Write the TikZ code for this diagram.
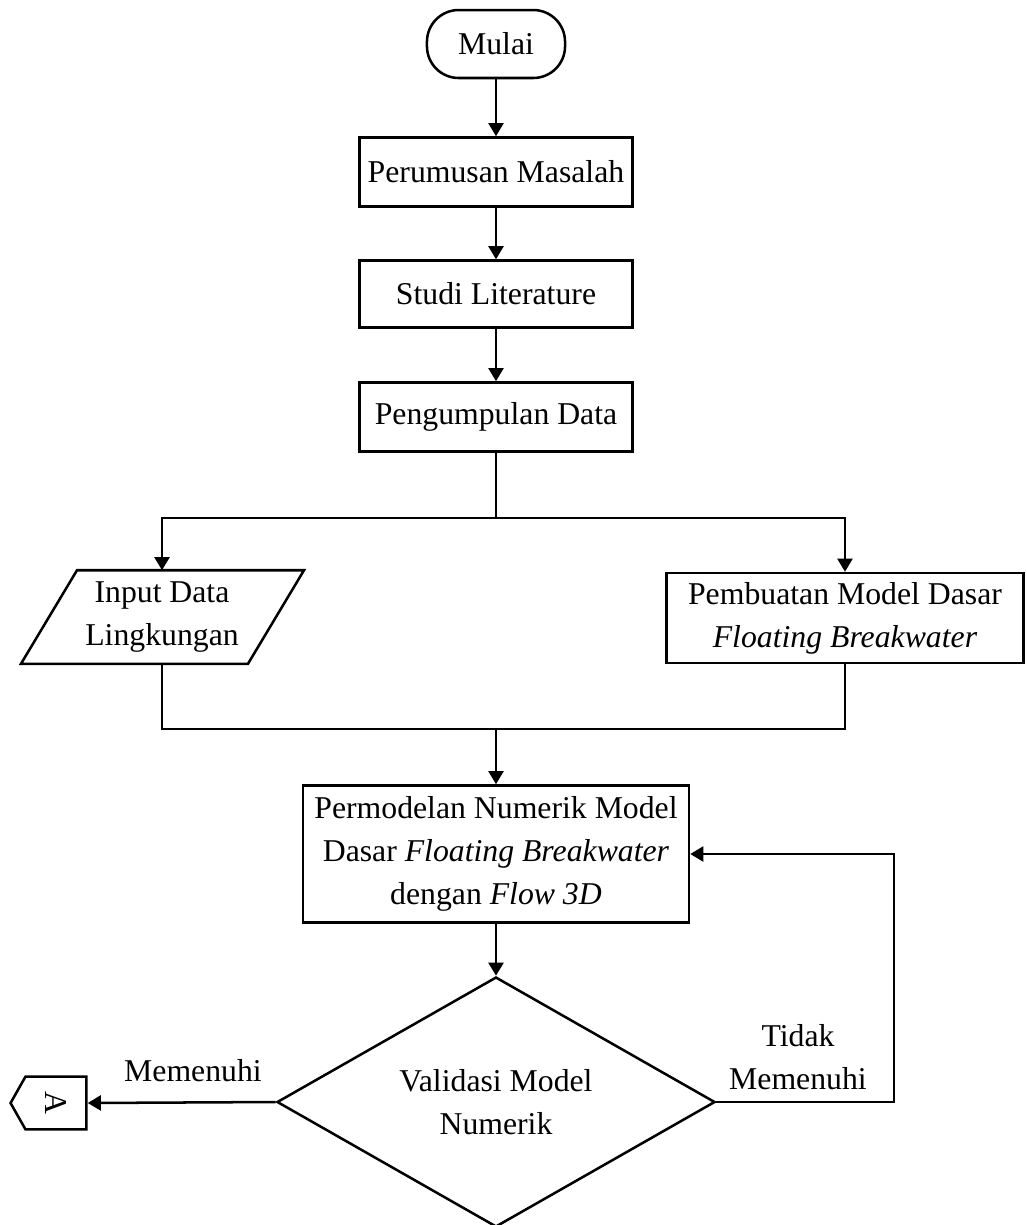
\documentclass[tikz,border=0pt]{standalone}
\usepackage{fontspec}
\setmainfont{Liberation Serif}
\usetikzlibrary{shapes.geometric,shapes.symbols,arrows.meta}

\begin{document}
\begin{tikzpicture}[x=0.378pt,y=-0.378pt,line width=0.95pt,
  font=\fontsize{12pt}{16.3pt}\selectfont,
  proses/.style={draw,rectangle,align=center,inner sep=0pt},
  arah/.style={-{Triangle[length=5pt,width=5.7pt]}},
  every node/.style={align=center}]
  \useasboundingbox (0,0) rectangle (1026,1225);
  \node[draw,rounded corners=12pt,minimum width=52.2pt,minimum height=25.7pt] (mulai) at (496,44) {Mulai};
  \node[proses,minimum width=103.2pt,minimum height=26.1pt] (rumusan) at (496,172) {Perumusan Masalah};
  \node[proses,minimum width=103.2pt,minimum height=25.3pt] (studi) at (496,294) {Studi Literature};
  \node[proses,minimum width=103.2pt,minimum height=26.1pt] (kumpul) at (496,417) {Pengumpulan Data};
  \node[minimum height=34.4pt,inner sep=0pt] (input) at (162,617) {Input Data\\Lingkungan};
  \draw ([shift={(-85,0)}]input.north) -- ([shift={(142,0)}]input.north) -- ([shift={(86,0)}]input.south) -- ([shift={(-141,0)}]input.south) -- cycle;
  \node[proses,minimum width=135pt,minimum height=34pt] (dasar) at (845,618) {Pembuatan Model Dasar\\\textit{Floating Breakwater}};
  \node[proses,minimum width=145.9pt,minimum height=51.8pt] (numerik) at (496,854) {Permodelan Numerik Model\\Dasar \textit{Floating Breakwater}\\dengan \textit{Flow 3D}};
  \node[draw,diamond,aspect=1.75,inner sep=0pt,minimum width=165.6pt,minimum height=94.5pt] (validasi) at (496,1102) {Validasi Model\\Numerik};
  \node[draw,signal,signal to=west,signal pointer angle=121,inner sep=0pt,minimum width=28.7pt,minimum height=20pt] (hal) at (56,1103) {\rotatebox{-90}{A}};
  \node (ya) at (193,1071) {Memenuhi};
  \node (tidak) at (798,1057) {Tidak\\Memenuhi};
  \coordinate (cabang) at (496,518);
  \coordinate (gabung) at (496,729);
  \coordinate (balik) at (894,1102);

  \draw[arah] (mulai) -- (rumusan);
  \draw[arah] (rumusan) -- (studi);
  \draw[arah] (studi) -- (kumpul);
  \draw (kumpul) -- (cabang);
  \draw[arah] (cabang) -| (input.north);
  \draw[arah] (cabang) -| (dasar.north);
  \draw (input.south) |- (dasar.south |- gabung) -- (dasar.south);
  \draw[arah] (gabung) -- (numerik);
  \draw[arah] (numerik) -- (validasi);
  \draw[arah] (validasi.west) -- (hal.east);
  \draw[arah] (validasi.east) -- (balik) |- (numerik.east);
\end{tikzpicture}
\end{document}
